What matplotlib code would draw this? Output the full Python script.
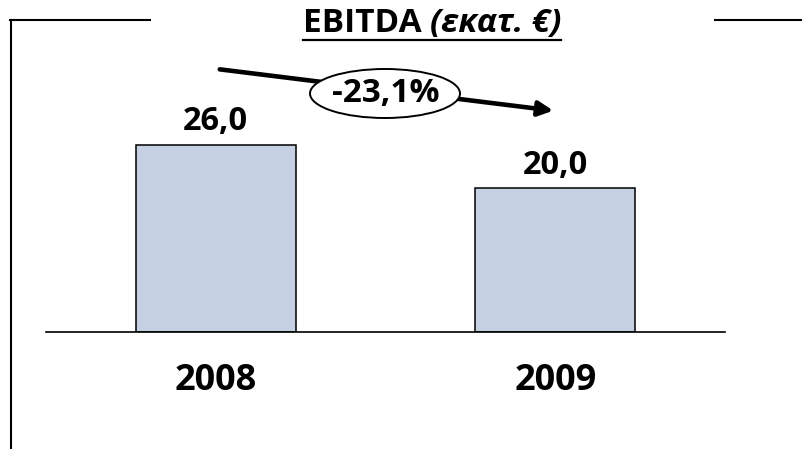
import matplotlib
matplotlib.use("Agg")
import matplotlib.pyplot as plt
from matplotlib.patches import Ellipse, FancyArrowPatch
from matplotlib.lines import Line2D

# data
years = ["2008", "2009"]
ebitda = [26.0, 20.0]
change_label = "-23,1%"
title_main = "EBITDA "
title_unit = "(εκατ. €)"

plt.rcParams['font.family'] = ['Open Sans', 'DejaVu Sans']

W, H = 803, 449


def fx(px):
    return px / W


def fy(py):
    return 1 - py / H


fig = plt.figure(figsize=(W / 100, H / 100), dpi=100)
px_per_unit = 187 / 26.0
ax = fig.add_axes([fx(46), 117 / H, 679 / W, 313 / H])

xpos = list(range(len(years)))
ax.bar(xpos, ebitda, width=0.47, color="#C5D0E2", edgecolor="black",
       linewidth=1.1, zorder=2)
ax.set_xlim(-0.5, 1.5)
ax.set_ylim(0, 313 / px_per_unit)
for s in ["top", "right", "left"]:
    ax.spines[s].set_visible(False)
ax.spines["bottom"].set_linewidth(1.2)
ax.set_xticks([])
ax.set_yticks([])
ax.patch.set_alpha(0)

for i, v in zip(xpos, ebitda):
    ax.annotate(f"{v:.1f}".replace(".", ","), (i, v), xytext=(0, 10.5),
                textcoords="offset points", ha="center", va="baseline",
                fontsize=23.5, fontweight="bold")
    ax.annotate(years[i], (i, 0), xytext=(0, -58 / 1.389),
                textcoords="offset points", ha="center", va="baseline",
                fontsize=26, fontweight="bold")

# frame lines
lw = 1.5
fig.add_artist(Line2D([fx(10), fx(150)], [fy(20), fy(20)], color="black", lw=lw))
fig.add_artist(Line2D([fx(11), fx(11)], [fy(20), fy(449)], color="black", lw=lw))
fig.add_artist(Line2D([fx(715), fx(803)], [fy(20), fy(20)], color="black", lw=lw))

# trend arrow with ellipse
arrow = FancyArrowPatch((fx(217), fy(69)), (fx(556), fy(111)),
                        transform=fig.transFigure, arrowstyle="-|>",
                        mutation_scale=22, lw=3.3, color="black")
fig.add_artist(arrow)
ell = Ellipse((fx(385), fy(93.5)), 150 / W, 49 / H, transform=fig.transFigure,
              facecolor="white", edgecolor="black", lw=1.4, zorder=5)
fig.add_artist(ell)
fig.text(fx(385.5), fy(94), change_label, ha="center", va="center",
         fontsize=24, fontweight="bold", zorder=6)

# title with underline
renderer = fig.canvas.get_renderer()
t1 = fig.text(0, fy(32), title_main, fontsize=24, fontweight="bold",
              ha="left", va="baseline")
t2 = fig.text(0, fy(32), title_unit, fontsize=24, fontweight="bold",
              fontstyle="italic", ha="left", va="baseline")
w1 = t1.get_window_extent(renderer).width
w2 = t2.get_window_extent(renderer).width
left = 432 - (w1 + w2) / 2
t1.set_x(fx(left))
t2.set_x(fx(left + w1))
fig.add_artist(Line2D([fx(left), fx(left + w1 + w2)], [fy(39.5), fy(39.5)],
                      color="black", lw=1.6))

fig.savefig("out.png", dpi=100)
